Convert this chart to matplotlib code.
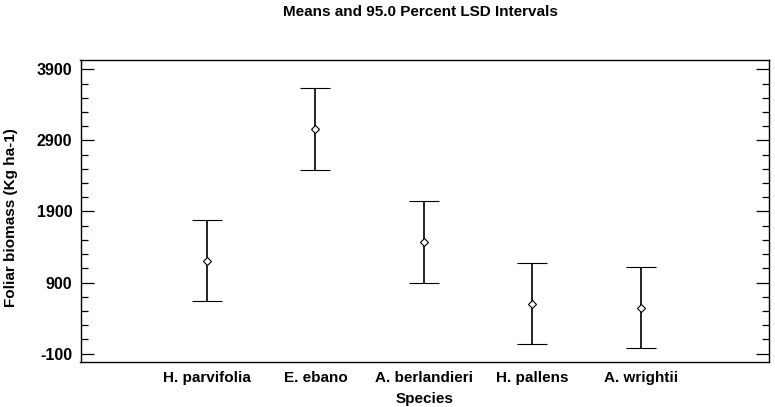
import matplotlib
matplotlib.use("Agg")
import matplotlib.pyplot as plt
import numpy as np
from matplotlib.ticker import FixedLocator

species = ["H. parvifolia", "E. ebano", "A. berlandieri", "H. pallens", "A. wrightii"]
means = [1209, 3062, 1477, 605, 548]
half_width = [567, 580, 577, 567, 571]
major_ticks = [-100, 900, 1900, 2900, 3900]

plt.rcParams['font.family'] = ['Liberation Sans', 'DejaVu Sans']
plt.rcParams['font.weight'] = 'bold'
plt.rcParams['axes.unicode_minus'] = False

fig = plt.figure(figsize=(7.75, 4.07), dpi=100)
ax = fig.add_axes([80.5/775, 1-361.7/407, (769-80.5)/775, (361.7-60.3)/407])

x = np.arange(len(species))
ax.errorbar(x, means, yerr=half_width, fmt='D', mfc='white', mec='black', ms=4,
            mew=0.8, ecolor='black', elinewidth=1.2, capsize=11, capthick=1.2,
            color='black')

ax.set_xlim(-1.166, 5.18)
ax.set_ylim(-213, 4027)
ax.yaxis.set_major_locator(FixedLocator(major_ticks))
ax.yaxis.set_minor_locator(FixedLocator(list(range(-100, 4001, 200))))
ax.set_xticks(x)
ax.set_xticklabels(species, fontsize=11, fontweight='bold')
ax.tick_params(axis='x', length=0, pad=7)
ax.tick_params(axis='y', which='major', direction='in', length=9.4, width=0.9,
               right=True, labelsize=11.5, pad=6)
ax.tick_params(axis='y', which='minor', direction='in', length=5, width=0.9, right=True)
for lab in ax.get_yticklabels():
    lab.set_fontweight('bold')
for s in ax.spines.values():
    s.set_linewidth(1.0)

ax.set_xlabel("Species", fontsize=11, fontweight='bold', labelpad=5)
ax.set_ylabel("Foliar biomass (Kg ha-1)", fontsize=11, fontweight='bold')
ax.yaxis.set_label_coords((18 - 80.5) / 688.5, (361.7 - 218) / 301.4)
fig.text(420/775, 1-12/407, "Means and 95.0 Percent LSD Intervals", ha='center', va='center',
         fontsize=11, fontweight='bold')

fig.savefig("out.png", dpi=100)
